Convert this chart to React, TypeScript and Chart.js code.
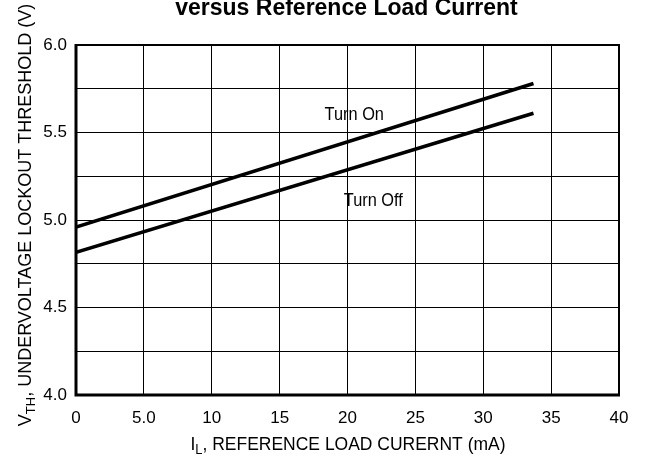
import React, { useEffect, useRef } from 'react';
import { Chart, registerables } from 'chart.js';

Chart.register(...registerables);

// ---- data ----
const currentMA = [0, 33.7];
const turnOnV = [4.96, 5.78];
const turnOffV = [4.815, 5.61];
const xLabelMap: Record<number, string> = { 0: '0', 5: '5.0', 10: '10', 15: '15', 20: '20', 25: '25', 30: '30', 35: '35', 40: '40' };
const yLabelValues = [4.0, 4.5, 5.0, 5.5, 6.0];
const chartTitle = 'versus Reference Load Current';
const xTitleMain = 'I';
const xTitleSub = 'L';
const xTitleRest = ', REFERENCE LOAD CURERNT (mA)';
const yTitleMain = 'V';
const yTitleSub = 'TH';
const yTitleRest = ', UNDERVOLTAGE LOCKOUT THRESHOLD (V)';
const annotations = [
  { text: 'Turn On', x: 20.5, y: 5.6 },
  { text: 'Turn Off', x: 21.9, y: 5.11 },
];

const FONT = '"Liberation Sans", Arial, sans-serif';

const overlayPlugin = {
  id: 'overlay',
  afterDraw(chart: any) {
    const { ctx, chartArea, scales } = chart;
    const xs = scales.x;
    const ys = scales.y;
    ctx.save();
    // frame
    ctx.strokeStyle = '#000';
    ctx.lineWidth = 2;
    ctx.beginPath();
    ctx.moveTo(chartArea.left, chartArea.top);
    ctx.lineTo(chartArea.right, chartArea.top);
    ctx.lineTo(chartArea.right, chartArea.bottom);
    ctx.stroke();
    ctx.lineWidth = 3;
    ctx.beginPath();
    ctx.moveTo(chartArea.left, chartArea.top - 1);
    ctx.lineTo(chartArea.left, chartArea.bottom);
    ctx.lineTo(chartArea.right + 1, chartArea.bottom);
    ctx.stroke();

    ctx.fillStyle = '#000';

    const condensed = (text: string, x: number, y: number, font: string, sx: number, align: 'center' | 'left') => {
      ctx.save();
      ctx.font = font;
      ctx.textAlign = align;
      ctx.translate(x, y);
      ctx.scale(sx, 1);
      ctx.fillText(text, 0, 0);
      ctx.restore();
    };

    // annotations
    ctx.textBaseline = 'middle';
    for (const a of annotations) {
      condensed(a.text, xs.getPixelForValue(a.x), ys.getPixelForValue(a.y), `19px ${FONT}`, 0.86, 'center');
    }

    // title
    ctx.textBaseline = 'alphabetic';
    condensed(chartTitle, (chartArea.left + chartArea.right) / 2 - 1, 15, `bold 23px ${FONT}`, 1.0, 'center');

    // axis titles with subscript
    const drawSubTitle = (main: string, sub: string, rest: string, size: number, sx: number) => {
      ctx.save();
      ctx.scale(sx, 1);
      ctx.font = `${size}px ${FONT}`;
      const wMain = ctx.measureText(main).width;
      const wRest = ctx.measureText(rest).width;
      ctx.font = `${Math.round(size * 0.72)}px ${FONT}`;
      const wSub = ctx.measureText(sub).width;
      const total = wMain + wSub + wRest;
      let x = -total / 2;
      ctx.textAlign = 'left';
      ctx.font = `${size}px ${FONT}`;
      ctx.fillText(main, x, 0);
      x += wMain;
      ctx.font = `${Math.round(size * 0.72)}px ${FONT}`;
      ctx.fillText(sub, x, 4);
      x += wSub;
      ctx.font = `${size}px ${FONT}`;
      ctx.fillText(rest, x, 0);
      ctx.restore();
    };
    ctx.save();
    ctx.translate(348, 450);
    drawSubTitle(xTitleMain, xTitleSub, xTitleRest, 19, 0.92);
    ctx.restore();

    ctx.save();
    ctx.translate(31, 215);
    ctx.rotate(-Math.PI / 2);
    drawSubTitle(yTitleMain, yTitleSub, yTitleRest, 18, 1.0);
    ctx.restore();

    ctx.restore();
  },
};

export default function App() {
  const ref = useRef<HTMLCanvasElement>(null);
  useEffect(() => {
    document.body.style.margin = '0';
    const chart = new Chart(ref.current!, {
      type: 'line',
      data: {
        datasets: [
          {
            label: 'Turn On',
            data: currentMA.map((x, i) => ({ x, y: turnOnV[i] })),
            borderColor: '#000',
            borderWidth: 3.5,
            pointRadius: 0,
            fill: false,
          },
          {
            label: 'Turn Off',
            data: currentMA.map((x, i) => ({ x, y: turnOffV[i] })),
            borderColor: '#000',
            borderWidth: 3.5,
            pointRadius: 0,
            fill: false,
          },
        ],
      },
      options: {
        animation: false,
        responsive: false,
        maintainAspectRatio: false,
        layout: { padding: { left: 0, right: 26, top: 45, bottom: 0 } },
        plugins: { legend: { display: false }, tooltip: { enabled: false }, title: { display: false } },
        scales: {
          x: {
            type: 'linear',
            min: 0,
            max: 40,
            afterFit: (s: any) => { s.height = 68; },
            ticks: {
              stepSize: 5,
              color: '#000',
              font: { family: FONT, size: 17 },
              padding: 13,
              callback: (v: any) => xLabelMap[v] ?? '',
            },
            grid: { color: '#000', lineWidth: 1, drawTicks: false },
            border: { display: false },
          },
          y: {
            type: 'linear',
            min: 4,
            max: 6,
            afterFit: (s: any) => { s.width = 76; },
            ticks: {
              stepSize: 0.25,
              color: '#000',
              font: { family: FONT, size: 17 },
              padding: 9,
              callback: (v: any) => (yLabelValues.some((t) => Math.abs(t - v) < 1e-6) ? Number(v).toFixed(1) : ''),
            },
            grid: { color: '#000', lineWidth: 1, drawTicks: false },
            border: { display: false },
          },
        },
      },
      plugins: [overlayPlugin],
    });
    return () => chart.destroy();
  }, []);
  return (
    <div style={{ width: 645, height: 463, background: '#fff' }}>
      <canvas ref={ref} width={645} height={463} style={{ display: 'block' }} />
    </div>
  );
}
